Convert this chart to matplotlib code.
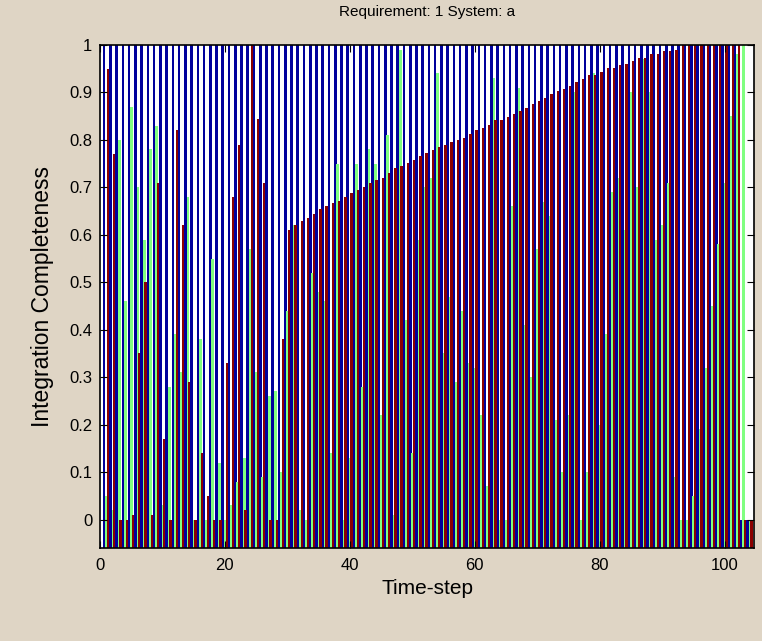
import numpy as np
import matplotlib
matplotlib.use("Agg")
import matplotlib.pyplot as plt

plt.rcParams['font.family'] = ['Liberation Sans', 'DejaVu Sans']

# time-steps 1..104
steps = np.arange(1, 105)

# blue series: full completeness almost everywhere
blue = [1.0] * 102 + [0.0, 0.0]

# red series
red = [0.95, 0.77, 0.0, 0.0, 0.01, 0.35, 0.50, 0.01, 0.71, 0.17,
       0.0, 0.82, 0.62, 0.29, 0.0, 0.14, 0.05, 0.0, 0.0, 0.33,
       0.68, 0.79, 0.02, 1.0, 0.845, 0.71, 0.0, 0.0, 0.38, 0.61,
       0.62, 0.63, 0.635, 0.644, 0.654, 0.66, 0.667, 0.672, 0.68, 0.688,
       0.694, 0.70, 0.71, 0.716, 0.72, 0.73, 0.74, 0.745, 0.752, 0.758,
       0.766, 0.773, 0.779, 0.786, 0.79, 0.795, 0.80, 0.805, 0.813, 0.82,
       0.826, 0.832, 0.842, 0.842, 0.848, 0.855, 0.861, 0.868, 0.875, 0.881,
       0.888, 0.896, 0.903, 0.908, 0.914, 0.923, 0.929, 0.936, 0.936, 0.943,
       0.951, 0.951, 0.957, 0.959, 0.966, 0.972, 0.972, 0.98, 0.98, 0.987,
       0.987, 0.99, 1.0, 1.0, 1.0, 1.0, 1.0, 1.0, 1.0, 1.0,
       1.0, 1.0, 0.0, 0.0]

# green series
green = [0.05, 0.02, 0.80, 0.46, 0.87, 0.70, 0.59, 0.78, 0.83, 0.03,
         0.28, 0.39, 0.31, 0.68, 0.0, 0.38, 0.0, 0.55, 0.12, 0.0,
         0.03, 0.08, 0.13, 0.57, 0.31, 0.09, 0.26, 0.27, 0.10, 0.44,
         0.62, 0.02, 0.0, 0.52, 0.48, 0.46, 0.14, 0.75, 0.0, 0.13,
         0.75, 0.28, 0.78, 0.75, 0.22, 0.81, 0.01, 0.99, 0.42, 0.14,
         0.59, 0.70, 0.72, 0.94, 0.35, 0.47, 0.29, 0.44, 0.33, 0.32,
         0.22, 0.07, 0.93, 0.0, 0.0, 0.66, 0.91, 0.41, 0.30, 0.57,
         0.67, 0.64, 0.21, 0.10, 0.22, 0.90, 0.0, 0.10, 0.94, 0.20,
         0.39, 0.69, 0.72, 0.61, 0.90, 0.70, 0.97, 0.90, 0.59, 0.62,
         0.71, 0.09, 0.0, 0.0, 0.05, 0.19, 0.32, 0.45, 0.58, 0.71,
         0.85, 0.98, 1.0, 0.0]

ybot = -0.06

fig = plt.figure(figsize=(7.62, 6.41), dpi=100)
fig.patch.set_facecolor('#DFD5C5')
ax = fig.add_axes([100/762, 1-548/641, 654/762, 503/641])

b = np.array(blue)
r = np.array(red)
g = np.array(green)
ax.bar(steps - 0.55, b - ybot, width=0.42, bottom=ybot, color='#00009C', align='edge', linewidth=0)
ax.bar(steps - 0.15, g - ybot, width=0.45, bottom=ybot, color='#80FF80', align='edge', linewidth=0)
ax.bar(steps + 0.10, r - ybot, width=0.38, bottom=ybot, color='#8B0000', align='edge', linewidth=0)

ax.set_xlim(0, 104.7)
ax.set_ylim(ybot, 1)
ax.set_xticks([0, 20, 40, 60, 80, 100])
ax.set_yticks(np.arange(0, 1.01, 0.1))
ax.set_yticklabels(['0', '0.1', '0.2', '0.3', '0.4', '0.5', '0.6', '0.7', '0.8', '0.9', '1'])
ax.tick_params(direction='in', top=True, right=True, length=5, labelsize=12)
ax.tick_params(axis='x', pad=7.5)
ax.tick_params(axis='y', pad=5.5)
for s in ax.spines.values():
    s.set_linewidth(1.2)

ax.set_title('Requirement: 1 System: a', fontsize=11, pad=21)
ax.set_xlabel('Time-step', fontsize=15, labelpad=4)
ax.set_ylabel('Integration Completeness', fontsize=16.5, labelpad=11)

fig.savefig('out.png', dpi=100, facecolor=fig.get_facecolor())
